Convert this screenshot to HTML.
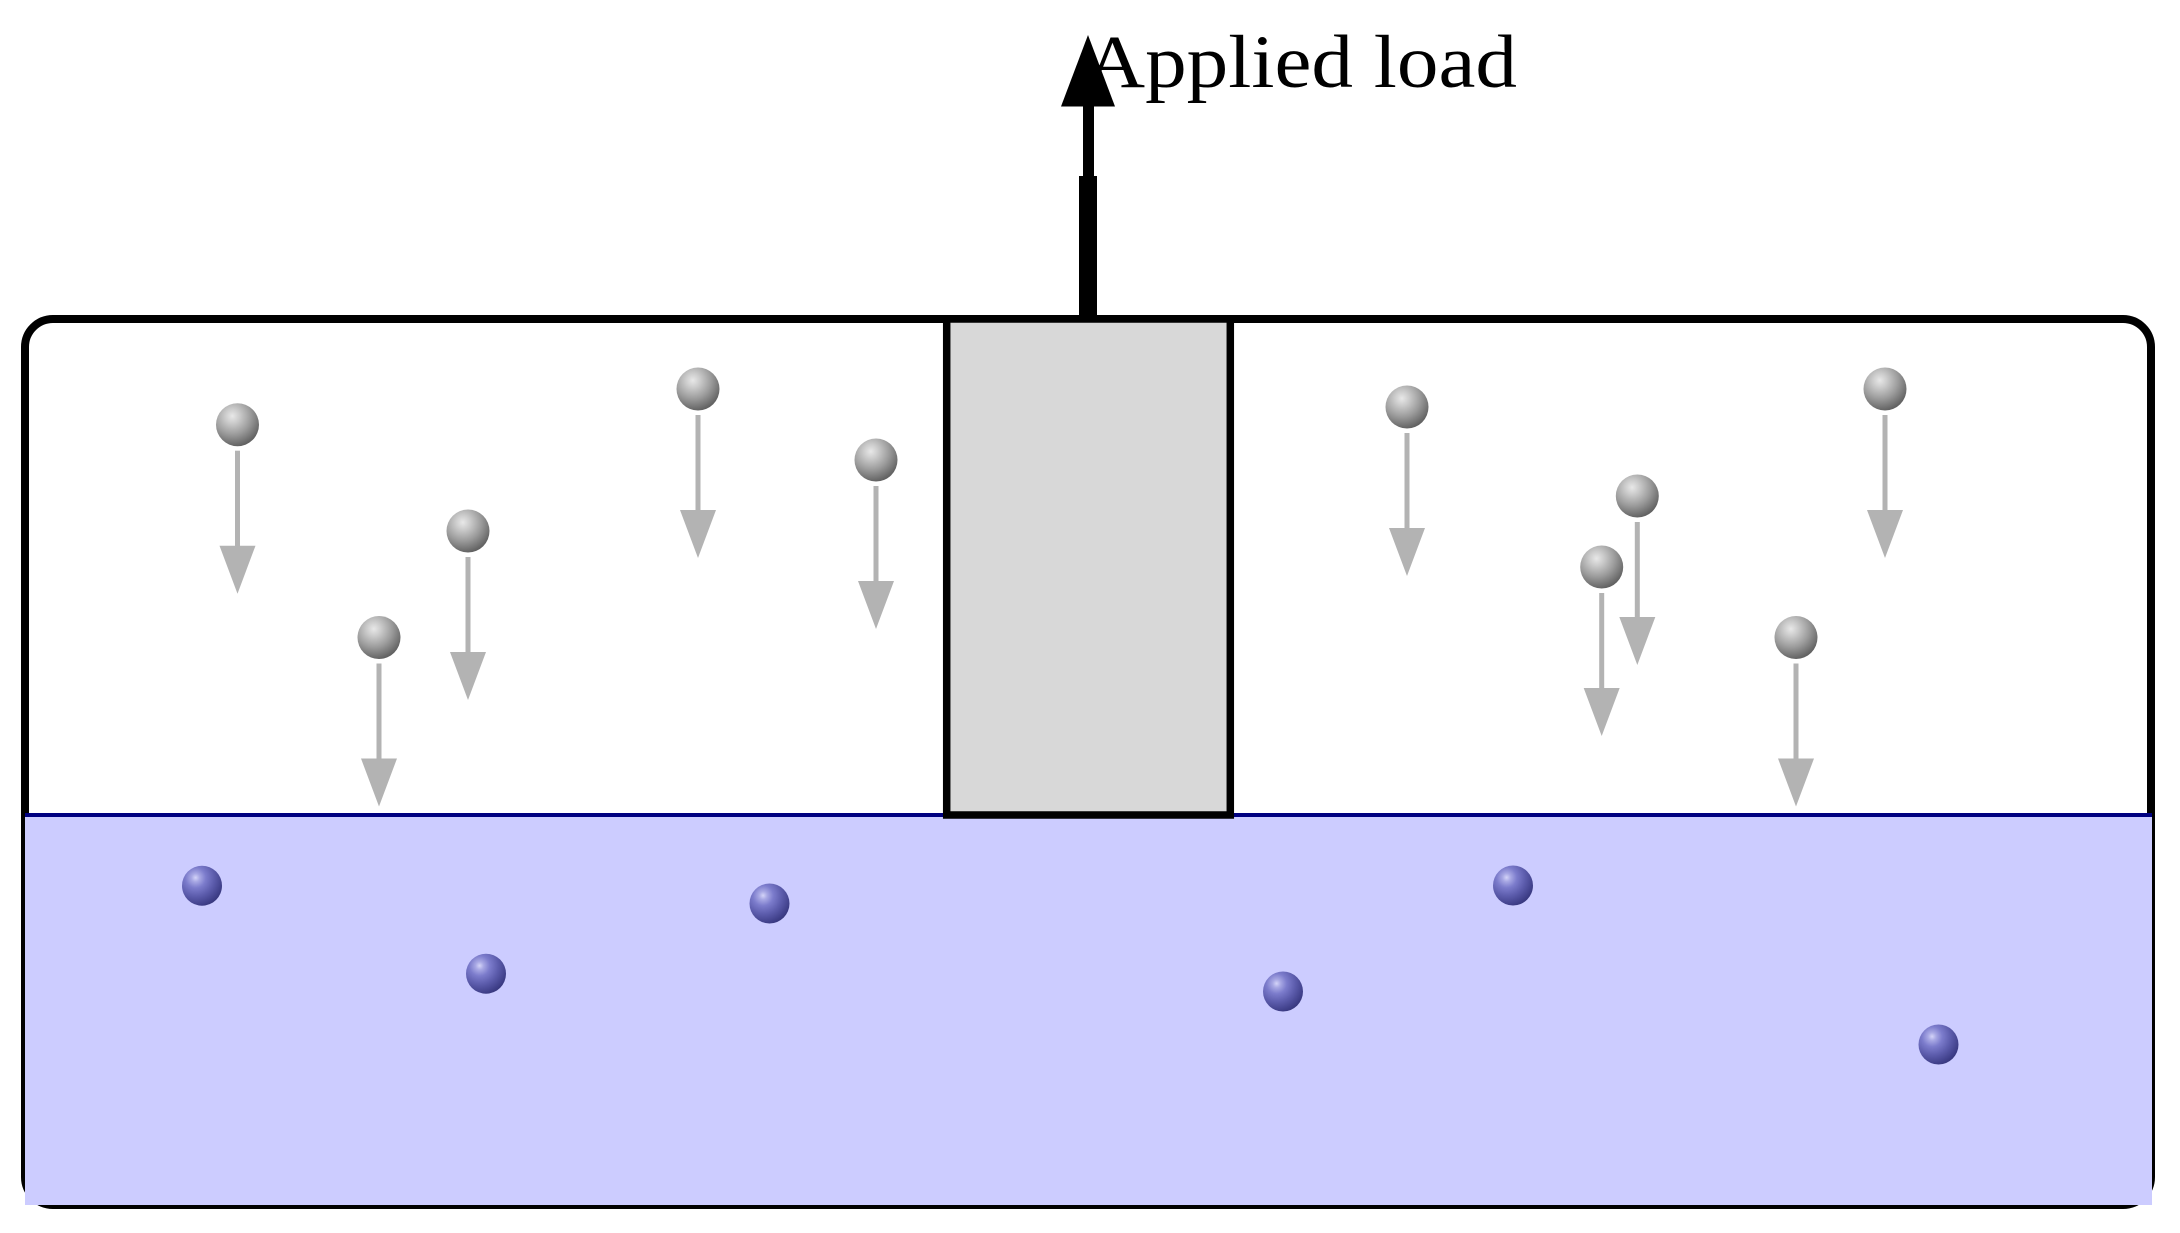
<!DOCTYPE html>
<html>
<head>
<meta charset="utf-8">
<style>
html,body{margin:0;padding:0;background:#fff;}
svg{display:block;}
</style>
</head>
<body>
<svg xmlns="http://www.w3.org/2000/svg" width="2180" height="1233" viewBox="0 0 2180 1233">
<defs>
<radialGradient id="g" cx="0.38" cy="0.3" r="0.85">
<stop offset="0" stop-color="#e8e8e8"/>
<stop offset="0.2" stop-color="#cbcbcb"/>
<stop offset="0.5" stop-color="#9c9c9c"/>
<stop offset="0.8" stop-color="#686868"/>
<stop offset="1" stop-color="#484848"/>
</radialGradient>
<radialGradient id="b" cx="0.34" cy="0.3" r="0.85">
<stop offset="0" stop-color="#d4d4f8"/>
<stop offset="0.12" stop-color="#a8a8e4"/>
<stop offset="0.3" stop-color="#7c7ccc"/>
<stop offset="0.55" stop-color="#5c5cac"/>
<stop offset="0.8" stop-color="#40408a"/>
<stop offset="1" stop-color="#2c2c6c"/>
</radialGradient>
<g id="ga">
<circle cx="0" cy="0" r="21.5" fill="url(#g)"/>
<rect x="-2.5" y="26" width="5" height="96" fill="#b3b3b3"/>
<polygon points="-18,121 18,121 0,169" fill="#b3b3b3"/>
</g>
</defs>
<rect width="2180" height="1233" fill="#fff"/>
<rect x="25" y="319" width="2126" height="886" rx="28" ry="28" fill="#fff" stroke="#000" stroke-width="8"/>
<rect x="25" y="815" width="2127" height="390" fill="#ccccff"/>
<rect x="25" y="813" width="2127" height="4" fill="#000080"/>
<rect x="946.7" y="319" width="283.6" height="496" fill="#d8d8d8" stroke="#000" stroke-width="7.5"/>
<rect x="1079" y="176" width="18" height="143" fill="#000"/>
<rect x="1083" y="100" width="11" height="80" fill="#000"/>
<polygon points="1061,106.5 1115,106.5 1088,35" fill="#000"/>
<text x="1085" y="87" font-family="'Liberation Serif',serif" font-size="75" textLength="432" lengthAdjust="spacingAndGlyphs" fill="#000">Applied load</text>
<use href="#ga" x="237.5" y="424.7"/>
<use href="#ga" x="468" y="531"/>
<use href="#ga" x="379" y="637.5"/>
<use href="#ga" x="698" y="389"/>
<use href="#ga" x="876" y="460"/>
<use href="#ga" x="1407" y="407"/>
<use href="#ga" x="1637.3" y="496"/>
<use href="#ga" x="1601.7" y="567"/>
<use href="#ga" x="1796" y="637.5"/>
<use href="#ga" x="1885" y="389"/>
<circle cx="202" cy="885.7" r="20" fill="url(#b)"/>
<circle cx="486" cy="973.7" r="20" fill="url(#b)"/>
<circle cx="769.5" cy="903.5" r="20" fill="url(#b)"/>
<circle cx="1283" cy="991.5" r="20" fill="url(#b)"/>
<circle cx="1513" cy="885.5" r="20" fill="url(#b)"/>
<circle cx="1938.5" cy="1044.5" r="20" fill="url(#b)"/>
</svg>
</body>
</html>
